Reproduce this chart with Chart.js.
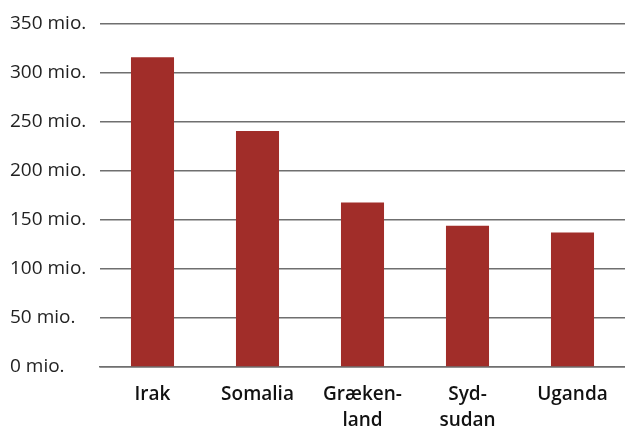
<!DOCTYPE html>
<html>
<head>
<meta charset="utf-8">
<script src="https://cdn.jsdelivr.net/npm/chart.js@4/dist/chart.umd.min.js"></script>
<style>
  html, body { margin: 0; padding: 0; background: #fff; }
  #wrap { width: 625px; height: 432px; position: relative; }
</style>
</head>
<body>
<div id="wrap"><canvas id="chart"></canvas></div>
<script>
const countries = [["Irak"], ["Somalia"], ["Græken-", "land"], ["Syd-", "sudan"], ["Uganda"]];
const amounts = [315.5, 240.5, 167.5, 144, 137];
const yTicks = [0, 50, 100, 150, 200, 250, 300, 350];

const FONT = "'Open Sans', 'DejaVu Sans', sans-serif";

new Chart(document.getElementById("chart"), {
  type: "bar",
  data: {
    labels: countries,
    datasets: [{
      data: amounts,
      backgroundColor: "#a12d29",
      borderWidth: 0,
      categoryPercentage: 1,
      barPercentage: 0.41,
    }],
  },
  options: {
    responsive: true,
    maintainAspectRatio: false,
    animation: false,
    layout: { padding: { top: 2, right: -4, left: 10, bottom: 0 } },
    plugins: { legend: { display: false }, tooltip: { enabled: false } },
    scales: {
      x: {
        grid: { display: false, drawTicks: false },
        border: { display: true, color: "#6f6f6f", width: 1.5 },
        afterFit: (axis) => { axis.height = 65; },
        ticks: {
          color: "#111",
          padding: 15,
          maxRotation: 0,
          autoSkip: false,
          font: { family: FONT, size: 19, weight: "600", lineHeight: "26px" },
        },
      },
      y: {
        min: 0,
        max: 350,
        afterBuildTicks: (axis) => { axis.ticks = yTicks.map((v) => ({ value: v })); },
        grid: { color: "#6f6f6f", lineWidth: 1.5, drawTicks: false },
        border: { display: false },
        afterFit: (axis) => { axis.width = 90; },
        ticks: {
          color: "#222",
          padding: 12,
          crossAlign: "far",
          font: { family: FONT, size: 19 },
          callback: (v) => `${v} mio.`,
        },
      },
    },
  },
});
</script>
</body>
</html>
